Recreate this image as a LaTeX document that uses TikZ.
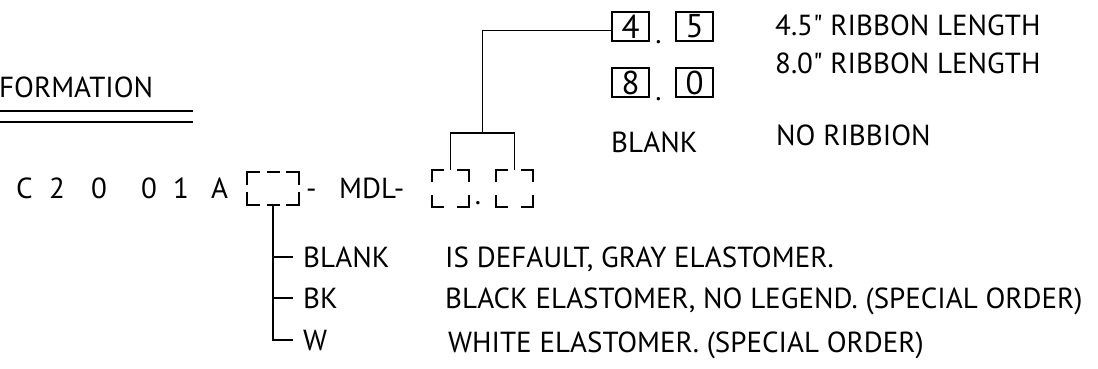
\documentclass[tikz,border=0pt]{standalone}
\usepackage{fontspec}
\setmainfont{PT Sans}
\usetikzlibrary{calc}
\newcommand\slotcorners[2]{%
  \draw[corner] (#1.north west) ++(0,#2) -- ++(0,-#2) -- ++(#2,0);
  \draw[corner] (#1.north east) ++(-#2,0) -- ++(#2,0) -- ++(0,#2);
  \draw[corner] (#1.south east) ++(0,-#2) -- ++(0,#2) -- ++(-#2,0);
  \draw[corner] (#1.south west) ++(#2,0) -- ++(-#2,0) -- ++(0,-#2);
}
\tikzset{
  lbl/.style={anchor=base west, inner sep=0pt, font=\fontsize{29}{34}\selectfont},
  tag/.style={anchor=base west, inner xsep=10pt, inner ysep=0pt, font=\fontsize{29}{34}\selectfont},
  slot/.style={draw=none, inner sep=0pt, minimum width=37pt, minimum height=37pt},
  digitbox/.style={draw, line width=1.3pt, minimum width=37pt, minimum height=29pt, inner sep=0pt, font=\fontsize{33}{38}\selectfont},
  wire/.style={line width=1.8pt},
  corner/.style={line width=1.8pt},
}
\begin{document}
\begin{tikzpicture}[x=1pt,y=-1pt]
\useasboundingbox (0,0) rectangle (1098,369);
% title
\node[lbl] (title) at (-1,98) {FORMATION};
\draw[line width=1.8pt] (0,111) -- (193,111);
\draw[line width=1.8pt] (0,122) -- (193,122);
% part number
\node[lbl] (c1) at (16,198) {C};
\node[lbl] (c2) at (49,198) {2};
\node[lbl] (c3) at (91,198) {0};
\node[lbl] (c4) at (141,198) {0};
\node[lbl] (c5) at (173,198) {1};
\node[lbl] (c6) at (211,198) {A};
\node[slot, minimum width=52pt, minimum height=33pt] (s1) at (273,188.5) {};
\slotcorners{s1}{13}
\draw[corner] ($(s1.north)+(-6.5,0)$) -- ++(13,0);
\draw[corner] ($(s1.south)+(-6.5,0)$) -- ++(13,0);
\node[lbl] (h1) at (306,198) {-};
\node[lbl] (mdl) at (339,198) {MDL-};
\node[slot] (s2) at (450.5,188.5) {};
\slotcorners{s2}{12.5}
\node[lbl, anchor=base] (d0) at (478,204) {.};
\node[slot] (s3) at (514.5,188.5) {};
\slotcorners{s3}{12.5}
% ribbon options
\node[digitbox] (b4) at (630.5,26.5) {4};
\node[lbl, anchor=base] (d1) at (658.5,44) {.};
\node[digitbox] (b5) at (694.5,26.5) {5};
\node[digitbox] (b8) at (630.5,82.5) {8};
\node[lbl, anchor=base] (d2) at (658.5,100) {.};
\node[digitbox] (b0) at (694.5,82.5) {0};
\node[lbl] (rblank) at (611,152) {BLANK};
\node[lbl] (r1) at (775,36) {4.5\textquotedbl{} RIBBON LENGTH};
\node[lbl] (r2) at (775,74) {8.0\textquotedbl{} RIBBON LENGTH};
\node[lbl] (r3) at (776,145) {NO RIBBION};
\coordinate (j) at ($(s2.north)!0.5!(s3.north)+(0,-37)$);
\draw[wire] (s2.north) |- (j) -| (s3.north);
\draw[wire] (j) |- ([yshift=-4pt]b4.west);
% elastomer options
\node[tag] (tblank) at (293,267) {BLANK};
\node[tag] (tbk) at (293,308) {BK};
\node[tag] (tw) at (293,350) {W};
\node[lbl] (e1) at (445,267) {IS DEFAULT, GRAY ELASTOMER.};
\node[lbl] (e2) at (445,308) {BLACK ELASTOMER, NO LEGEND. (SPECIAL ORDER)};
\node[lbl] (e3) at (448,352) {WHITE ELASTOMER. (SPECIAL ORDER)};
\draw[wire] (s1.south) |- (tw.west);
\draw[wire] (s1.south |- tblank.west) -- (tblank.west);
\draw[wire] (s1.south |- tbk.west) -- (tbk.west);
\end{tikzpicture}
\end{document}
